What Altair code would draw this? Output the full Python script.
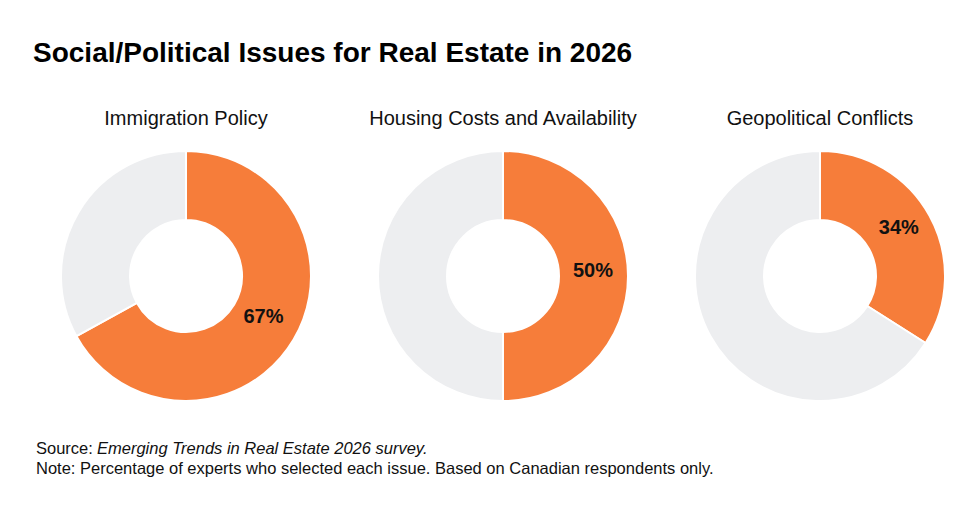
import altair as alt
import pandas as pd

FONT = "Liberation Sans"

# Survey results: share of experts selecting each issue
issues = ["Immigration Policy", "Housing Costs and Availability", "Geopolitical Conflicts"]
shares = [67, 50, 34]
parts = ["Selected", "Not selected"]
colors = ["#F67D3A", "#EDEEF0"]

title_text = "Social/Political Issues for Real Estate in 2026"
source_prefix = "Source:"
source_title = "Emerging Trends in Real Estate 2026 survey."
note_text = "Note: Percentage of experts who selected each issue. Based on Canadian respondents only."

CX, CY = 153, 123


def donut(issue, share):
    df = pd.DataFrame({
        "part": parts,
        "value": [share, 100 - share],
        "order": [0, 1],
        "label": [f"{share}%", ""],
    })
    base = alt.Chart(df).encode(
        theta=alt.Theta("value:Q", stack=True),
        order=alt.Order("order:Q"),
    )
    arcs = base.mark_arc(
        innerRadius=56, outerRadius=125, stroke="white", strokeWidth=2
    ).encode(
        color=alt.Color("part:N", scale=alt.Scale(domain=parts, range=colors), legend=None),
        x=alt.value(CX),
        y=alt.value(CY),
    )
    labels = base.transform_filter(alt.datum.order == 0).mark_text(
        radius=90, dy=-5, fontSize=20, fontWeight="bold", font=FONT, color="#111111"
    ).encode(
        text="label:N",
        x=alt.value(CX),
        y=alt.value(CY),
    )
    return alt.layer(arcs, labels).properties(
        width=296,
        height=248,
        title=alt.TitleParams(
            issue, fontSize=20, fontWeight="normal", font=FONT, color="#111111",
            dx=5, offset=18,
        ),
    )


row = alt.hconcat(*[donut(i, s) for i, s in zip(issues, shares)], spacing=21)


def footer_text(txt, x, y, italic=False):
    return alt.Chart(pd.DataFrame({"t": [txt]})).mark_text(
        align="left", baseline="alphabetic", fontSize=16.5, font=FONT, color="#111111",
        fontStyle="italic" if italic else "normal",
    ).encode(text="t:N", x=alt.value(x), y=alt.value(y))


footer = alt.layer(
    footer_text(source_prefix, 3, 29),
    footer_text(source_title, 64, 29, italic=True),
    footer_text(note_text, 3, 49),
).properties(width=900, height=55)

chart = alt.vconcat(row, footer, spacing=20).properties(
    title=alt.TitleParams(
        title_text, anchor="start", fontSize=28, font=FONT, fontWeight="bold",
        color="#000000", offset=41,
    ),
    padding={"left": 33, "top": 40, "right": 0, "bottom": 0},
).configure_view(stroke=None)

chart.save("out.html", embed_options={"renderer": "svg", "actions": False})
